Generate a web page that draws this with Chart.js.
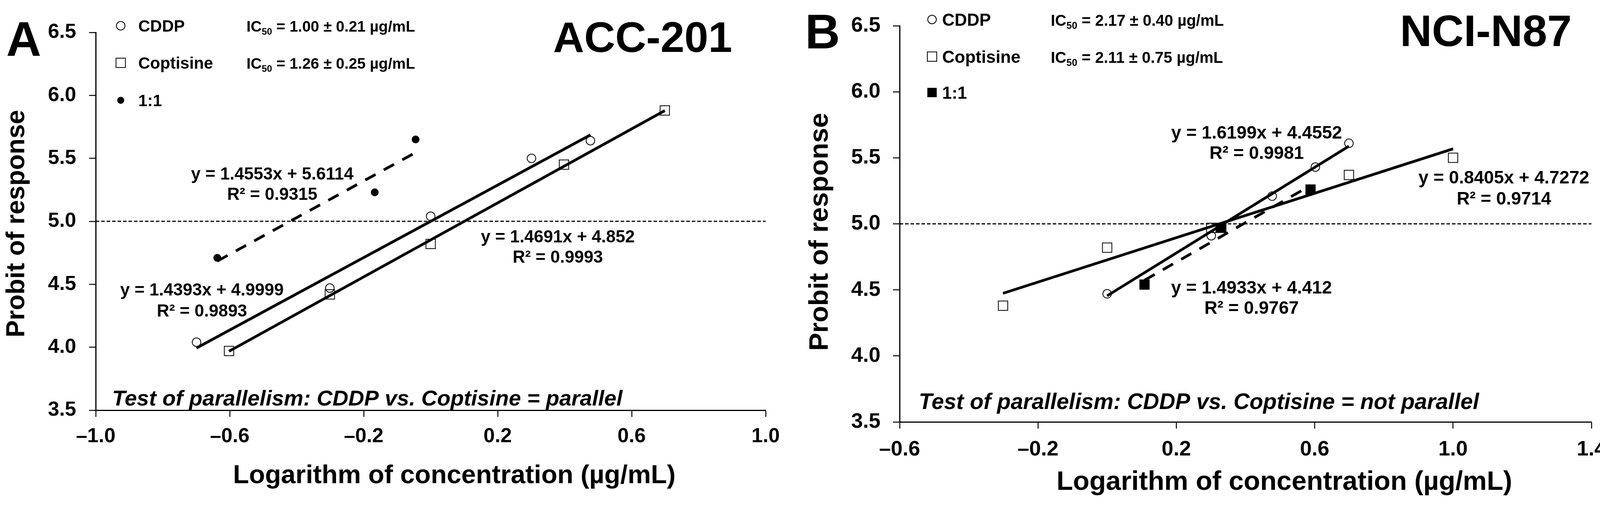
<!DOCTYPE html>
<html>
<head>
<meta charset="utf-8">
<title>Probit plots ACC-201 / NCI-N87</title>
<script src="https://cdn.jsdelivr.net/npm/chart.js@4.4.1/dist/chart.umd.min.js"></script>
<style>
  html, body { margin: 0; padding: 0; background: #fff; }
  body { width: 4142px; height: 1299px; position: relative; overflow: hidden; }
  canvas { position: absolute; top: 0; }
</style>
</head>
<body>
<canvas id="chartA" width="2040" height="1299" style="left:0px;width:2040px;height:1299px"></canvas>
<canvas id="chartB" width="2102" height="1299" style="left:2040px;width:2102px;height:1299px"></canvas>
<script>
// ---- Data (log10 concentration vs probit) ----

// tick labels
const yTicks = [3.5, 4.0, 4.5, 5.0, 5.5, 6.0, 6.5];
const xTicksA = [-1.0, -0.6, -0.2, 0.2, 0.6, 1.0];
const xTicksB = [-0.6, -0.2, 0.2, 0.6, 1.0, 1.4];

// Panel A: ACC-201
const cddpX_A = [-0.699, -0.301, 0.0, 0.301, 0.477];
const cddpY_A = [4.04, 4.47, 5.04, 5.50, 5.64];
const coptX_A = [-0.602, -0.301, 0.0, 0.398, 0.699];
const coptY_A = [3.97, 4.42, 4.82, 5.45, 5.88];
const comboX_A = [-0.637, -0.167, -0.045];
const comboY_A = [4.71, 5.23, 5.65];
// trendline end points
const cddpFitX_A = [-0.699, 0.477];
const cddpFitY_A = [3.994, 5.686];
const coptFitX_A = [-0.602, 0.699];
const coptFitY_A = [3.968, 5.879];
const comboFitX_A = [-0.637, -0.045];
const comboFitY_A = [4.684, 5.546];
const refX_A = [-1.0, 1.0];

// Panel B: NCI-N87
const cddpX_B = [0.0, 0.301, 0.477, 0.602, 0.699];
const cddpY_B = [4.47, 4.91, 5.21, 5.43, 5.61];
const coptX_B = [-0.301, 0.0, 0.301, 0.699, 1.0];
const coptY_B = [4.38, 4.82, 4.97, 5.37, 5.50];
const comboX_B = [0.108, 0.33, 0.588];
const comboY_B = [4.54, 4.97, 5.26];
const cddpFitX_B = [0.0, 0.699];
const cddpFitY_B = [4.455, 5.588];
const coptFitX_B = [-0.301, 1.0];
const coptFitY_B = [4.474, 5.568];
const comboFitX_B = [0.108, 0.588];
const comboFitY_B = [4.573, 5.290];
const refX_B = [-0.6, 1.4];

const refY = 5.0;

const FONT = '"Liberation Sans", Arial, Helvetica, sans-serif';

function pts(xs, ys) {
  return xs.map((x, i) => ({ x: x, y: ys[i] }));
}

function fmtTick(v) {
  const s = Math.abs(v).toFixed(1);
  return v < 0 ? "\u2013" + s : s;
}

// draw a marker like the chart's point styles
function marker(ctx, style, x, y, r, filled) {
  ctx.save();
  ctx.lineWidth = 2;
  ctx.strokeStyle = "#000";
  ctx.fillStyle = "#000";
  ctx.beginPath();
  if (style === "circle") {
    ctx.arc(x, y, r, 0, Math.PI * 2);
  } else {
    const s = r * Math.SQRT1_2;
    ctx.rect(x - s, y - s, 2 * s, 2 * s);
  }
  if (filled) ctx.fill();
  else ctx.stroke();
  ctx.restore();
}

function setFont(ctx, size, italic) {
  ctx.font = (italic ? "italic " : "") + "bold " + size + "px " + FONT;
}

// IC50 label with subscript
function drawIC(ctx, x, y, size, rest) {
  ctx.save();
  ctx.fillStyle = "#000";
  ctx.textAlign = "left";
  setFont(ctx, size);
  ctx.fillText("IC", x, y);
  let w = ctx.measureText("IC").width;
  setFont(ctx, Math.round(size * 0.62));
  ctx.fillText("50", x + w, y + size * 0.2);
  w += ctx.measureText("50").width;
  setFont(ctx, size);
  ctx.fillText(rest, x + w, y);
  ctx.restore();
}

/**
 * Plugin drawing the panel letter, titles, legend and equations
 * @param {Object} p - text layout of one panel
 */
function textPlugin(p) {
  return {
    id: "panelText",
    afterDraw(chart) {
      const ctx = chart.ctx;
      ctx.save();
      ctx.fillStyle = "#000";
      ctx.textBaseline = "alphabetic";

      p.texts.forEach((t) => {
        ctx.save();
        setFont(ctx, t.size, t.italic);
        ctx.textAlign = t.align || "left";
        if (t.rotate) {
          ctx.translate(t.x, t.y);
          ctx.rotate(t.rotate);
          ctx.fillText(t.text, 0, 0);
        } else {
          ctx.fillText(t.text, t.x, t.y);
        }
        ctx.restore();
      });

      p.legend.forEach((l) => {
        marker(ctx, l.style, p.legendX, l.y, l.r, l.filled);
        ctx.save();
        setFont(ctx, p.legendSize);
        ctx.textAlign = "left";
        ctx.fillText(l.label, p.legendTextX, l.y + p.legendSize * 0.36);
        ctx.restore();
        if (l.ic) drawIC(ctx, p.icX, l.y + p.legendSize * 0.36, p.icSize, l.ic);
      });
      ctx.restore();
    },
  };
}

function lineSet(xs, ys, width, dash, order) {
  return {
    data: pts(xs, ys),
    showLine: true,
    borderColor: "#000",
    borderWidth: width,
    borderDash: dash || [],
    borderCapStyle: "butt",
    pointRadius: 0,
    fill: false,
    order: order,
  };
}

function pointSet(xs, ys, style, r, filled) {
  return {
    data: pts(xs, ys),
    showLine: false,
    pointStyle: style,
    pointRadius: r,
    pointBorderWidth: 2,
    pointBorderColor: "#000",
    pointBackgroundColor: filled ? "#000" : "rgba(0,0,0,0)",
    order: 5,
  };
}

/**
 * Create one probit panel
 * @param {string} canvasId - Canvas element ID
 * @param {Object} cfg - plot box, ticks, datasets and text layout
 */
function createPanel(canvasId, cfg) {
  const canvas = document.getElementById(canvasId);
  if (!canvas) return null;
  const ctx = canvas.getContext("2d");

  const axisGrid = {
    display: true,
    drawOnChartArea: false,
    drawTicks: true,
    tickLength: 17,
    tickWidth: 2.5,
    tickColor: "#000",
  };

  return new Chart(ctx, {
    type: "scatter",
    data: { datasets: cfg.datasets },
    options: {
      responsive: false,
      maintainAspectRatio: false,
      animation: false,
      devicePixelRatio: 1,
      events: [],
      layout: {
        padding: { left: 0, top: cfg.area.top, right: canvas.width - cfg.area.right, bottom: 0 },
      },
      plugins: {
        legend: { display: false },
        tooltip: { enabled: false },
      },
      scales: {
        x: {
          type: "linear",
          min: cfg.xTicks[0],
          max: cfg.xTicks[cfg.xTicks.length - 1],
          afterBuildTicks: (scale) => {
            scale.ticks = cfg.xTicks.map((v) => ({ value: v }));
          },
          afterFit: (scale) => {
            scale.height = canvas.height - cfg.area.bottom;
          },
          border: { display: true, color: "#000", width: 3 },
          grid: axisGrid,
          ticks: {
            color: "#000",
            padding: cfg.xPad,
            maxRotation: 0,
            autoSkip: false,
            font: { family: FONT, size: cfg.tickSize, weight: "bold" },
            callback: (v) => fmtTick(v),
          },
        },
        y: {
          type: "linear",
          min: yTicks[0],
          max: yTicks[yTicks.length - 1],
          afterBuildTicks: (scale) => {
            scale.ticks = yTicks.map((v) => ({ value: v }));
          },
          afterFit: (scale) => {
            scale.width = cfg.area.left;
          },
          border: { display: true, color: "#000", width: 3 },
          grid: axisGrid,
          ticks: {
            color: "#000",
            padding: cfg.yPad,
            autoSkip: false,
            font: { family: FONT, size: cfg.tickSize, weight: "bold" },
            callback: (v) => Number(v).toFixed(1),
          },
        },
      },
    },
    plugins: [textPlugin(cfg.text)],
  });
}

// Panel A
createPanel("chartA", {
  area: { left: 245, top: 83, right: 1960, bottom: 1051 },
  xPad: 19,
  yPad: 33,
  tickSize: 52,
  xTicks: xTicksA,
  datasets: [
    lineSet(cddpFitX_A, cddpFitY_A, 7, [], 0),
    lineSet(coptFitX_A, coptFitY_A, 7, [], 0),
    lineSet(comboFitX_A, comboFitY_A, 7, [30, 24], 0),
    lineSet(refX_A, [refY, refY], 3, [9, 5], 2),
    pointSet(cddpX_A, cddpY_A, "circle", 11, false),
    pointSet(coptX_A, coptY_A, "rect", 17, false),
    pointSet(comboX_A, comboY_A, "circle", 9, true),
  ],
  text: {
    legendX: 309,
    legendTextX: 354,
    legendSize: 42,
    icX: 631,
    icSize: 39,
    legend: [
      { y: 66, style: "circle", r: 11, filled: false, label: "CDDP", ic: " = 1.00 \u00b1 0.21 \u00b5g/mL" },
      { y: 161, style: "rect", r: 17, filled: false, label: "Coptisine", ic: " = 1.26 \u00b1 0.25 \u00b5g/mL" },
      { y: 257, style: "circle", r: 9, filled: true, label: "1:1" },
    ],
    texts: [
      { text: "A", x: 16, y: 143, size: 124 },
      { text: "ACC-201", x: 1416, y: 133, size: 110 },
      { text: "y = 1.4553x + 5.6114", x: 697, y: 460, size: 44, align: "center" },
      { text: "R\u00b2 = 0.9315", x: 697, y: 512, size: 44, align: "center" },
      { text: "y = 1.4691x + 4.852", x: 1428, y: 621, size: 44, align: "center" },
      { text: "R\u00b2 = 0.9993", x: 1428, y: 673, size: 44, align: "center" },
      { text: "y = 1.4393x + 4.9999", x: 517, y: 757, size: 44, align: "center" },
      { text: "R\u00b2 = 0.9893", x: 517, y: 811, size: 44, align: "center" },
      { text: "Test of parallelism: CDDP vs. Coptisine = parallel", x: 287, y: 1039, size: 56, italic: true },
      { text: "Logarithm of concentration (\u00b5g/mL)", x: 1163, y: 1238, size: 67, align: "center" },
      { text: "Probit of response", x: 62, y: 573, size: 66, align: "center", rotate: -Math.PI / 2 },
    ],
  },
});

// Panel B
createPanel("chartB", {
  area: { left: 263, top: 66, right: 2034, bottom: 1081 },
  xPad: 22,
  yPad: 32,
  tickSize: 54,
  xTicks: xTicksB,
  datasets: [
    lineSet(cddpFitX_B, cddpFitY_B, 7, [], 0),
    lineSet(coptFitX_B, coptFitY_B, 7, [], 0),
    lineSet(comboFitX_B, comboFitY_B, 7, [30, 24], 0),
    lineSet(refX_B, [refY, refY], 3, [9, 5], 2),
    pointSet(cddpX_B, cddpY_B, "circle", 11, false),
    pointSet(coptX_B, coptY_B, "rect", 17, false),
    pointSet(comboX_B, comboY_B, "rect", 17, true),
  ],
  text: {
    legendX: 346,
    legendTextX: 372,
    legendSize: 44,
    icX: 650,
    icSize: 40,
    legend: [
      { y: 50, style: "circle", r: 11, filled: false, label: "CDDP", ic: " = 2.17 \u00b1 0.40 \u00b5g/mL" },
      { y: 145, style: "rect", r: 17, filled: false, label: "Coptisine", ic: " = 2.11 \u00b1 0.75 \u00b5g/mL" },
      { y: 237, style: "rect", r: 17, filled: true, label: "1:1" },
    ],
    texts: [
      { text: "B", x: 21, y: 124, size: 124 },
      { text: "NCI-N87", x: 1544, y: 118, size: 113 },
      { text: "y = 1.6199x + 4.4552", x: 1177, y: 355, size: 46, align: "center" },
      { text: "R\u00b2 = 0.9981", x: 1177, y: 407, size: 46, align: "center" },
      { text: "y = 0.8405x + 4.7272", x: 1810, y: 470, size: 46, align: "center" },
      { text: "R\u00b2 = 0.9714", x: 1810, y: 524, size: 46, align: "center" },
      { text: "y = 1.4933x + 4.412", x: 1164, y: 752, size: 46, align: "center" },
      { text: "R\u00b2 = 0.9767", x: 1164, y: 804, size: 46, align: "center" },
      { text: "Test of parallelism: CDDP vs. Coptisine = not parallel", x: 312, y: 1048, size: 57, italic: true },
      { text: "Logarithm of concentration (\u00b5g/mL)", x: 1248, y: 1255, size: 69, align: "center" },
      { text: "Probit of response", x: 79, y: 594, size: 69, align: "center", rotate: -Math.PI / 2 },
    ],
  },
});
</script>
</body>
</html>
